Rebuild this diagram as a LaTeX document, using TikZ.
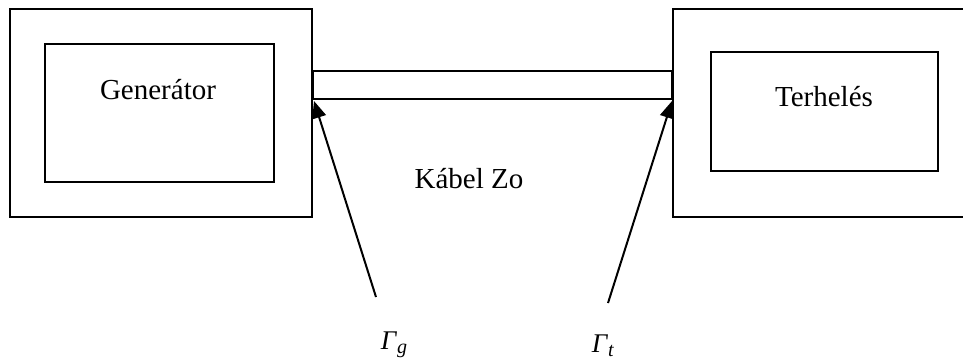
\documentclass[tikz,border=0pt]{standalone}
\usepackage{fontspec}
\setmainfont{Liberation Serif}
\usetikzlibrary{arrows.meta}
\begin{document}
\begin{tikzpicture}[x=1pt,y=-1pt,
  box/.style={draw=black,line width=2pt},
  lbl/.style={font=\fontsize{29}{34}\selectfont,inner sep=0pt},
  gam/.style={font=\fontsize{27}{32}\selectfont,inner sep=0pt},
  ptr/.style={line width=2pt,-{Triangle[length=17pt,width=14pt]}}]
\useasboundingbox (0,0) rectangle (963,360);
\begin{scope}
\clip (0,0) rectangle (963,360);
\draw[box] (10,9) rectangle (312,217);
\draw[box] (45,44) rectangle (274,182);
\draw[box] (313,71) rectangle (672,99);
\draw[box] (673,9) rectangle (975,217);
\draw[box] (711,52) rectangle (938,171);
\end{scope}
\coordinate (cl) at (314,101);
\coordinate (cr) at (672,101);
\node[lbl] (gen) at (158,90) {Generátor};
\node[lbl] (ter) at (824,97) {Terhelés};
\node[lbl] (kab) at (469,179) {Kábel Zo};
\coordinate (gs) at (376,297);
\coordinate (ts) at (608,303);
\node[gam] (gg) at (394,345) {\textit{Γ}\raisebox{-4pt}{\fontsize{20}{22}\selectfont\textit{g}}};
\node[gam] (gt) at (603,346) {\textit{Γ}\raisebox{-4pt}{\fontsize{20}{22}\selectfont\textit{t}}};
\draw[ptr] (gs) -- (cl);
\draw[ptr] (ts) -- (cr);
\end{tikzpicture}
\end{document}
